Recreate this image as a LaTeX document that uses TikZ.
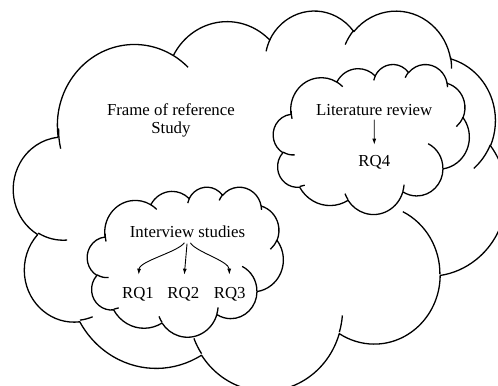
\documentclass[tikz,border=0pt]{standalone}
\usepackage{fontspec}
\setmainfont{Liberation Serif}
\usetikzlibrary{arrows.meta}
% converts an OOXML arc (visual angles) into parametric TikZ angles
\newcommand\cdef[5]{%
  \pgfmathsetmacro\cloudtmpS{atan2((#2)*sin(#4),(#3)*cos(#4))}%
  \pgfmathsetmacro\cloudtmpE{atan2((#2)*sin((#4)+(#5)),(#3)*cos((#4)+(#5)))}%
  \pgfmathsetmacro\cloudtmpD{mod((\cloudtmpE)-(\cloudtmpS)+720,360)}%
  \expandafter\let\csname #1S\endcsname\cloudtmpS
  \expandafter\let\csname #1D\endcsname\cloudtmpD}
\newcommand\cloudmain{(3.9,14.37)
  arc[x radius=6.753,y radius=9.19,start angle=\mAS,delta angle=\mAD]
  arc[x radius=5.333,y radius=7.267,start angle=\mBS,delta angle=\mBD]
  arc[x radius=4.365,y radius=5.945,start angle=\mCS,delta angle=\mCD]
  arc[x radius=4.857,y radius=6.595,start angle=\mDS,delta angle=\mDD]
  arc[x radius=5.333,y radius=7.273,start angle=\mES,delta angle=\mED]
  arc[x radius=6.775,y radius=9.22,start angle=\mFS,delta angle=\mFD]
  arc[x radius=5.785,y radius=7.867,start angle=\mGS,delta angle=\mGD]
  arc[x radius=6.752,y radius=9.215,start angle=\mHS,delta angle=\mHD]
  arc[x radius=7.72,y radius=10.543,start angle=\mIS,delta angle=\mID]
  arc[x radius=4.36,y radius=5.918,start angle=\mJS,delta angle=\mJD]
  arc[x radius=4.345,y radius=5.945,start angle=\mKS,delta angle=\mKD] -- cycle}
\newcommand\cloudhooks{
  (4.693,26.177) arc[x radius=4.345,y radius=5.945,start angle=\hAS,delta angle=\hAD]
  (6.928,34.899) arc[x radius=4.36,y radius=5.918,start angle=\hBS,delta angle=\hBD]
  (16.478,39.09) arc[x radius=6.752,y radius=9.215,start angle=\hCS,delta angle=\hCD]
  (28.827,34.751) arc[x radius=6.752,y radius=9.215,start angle=\hDS,delta angle=\hDD]
  (34.129,22.954) arc[x radius=5.785,y radius=7.867,start angle=\hES,delta angle=\hED]
  (41.798,15.354) arc[x radius=5.333,y radius=7.273,start angle=\hFS,delta angle=\hFD]
  (38.324,5.426) arc[x radius=4.857,y radius=6.595,start angle=\hGS,delta angle=\hGD]
  (29.078,3.952) arc[x radius=4.857,y radius=6.595,start angle=\hHS,delta angle=\hHD]
  (22.141,4.72) arc[x radius=4.365,y radius=5.945,start angle=\hIS,delta angle=\hID]
  (14.0,5.192) arc[x radius=6.753,y radius=9.19,start angle=\hJS,delta angle=\hJD]
  (4.127,15.789) arc[x radius=6.753,y radius=9.19,start angle=\hKS,delta angle=\hKD]}
\begin{document}
\begin{tikzpicture}[scale=0.0351459,yscale=-1,
  cloudline/.style={line width=1.3pt,line join=round},
  lbl/.style={font=\fontsize{16.8}{18}\selectfont,inner sep=0pt,anchor=base},
  arr/.style={line width=0.9pt,-{Latex[length=6pt,width=4pt]}}]
\useasboundingbox (0,0) rectangle (498,385);
\clip (0,0) rectangle (498,385);
\cdef{mA}{6.753}{9.19}{-190.4875}{123.7805}
\cdef{mB}{5.333}{7.267}{-144.1024}{89.9452}
\cdef{mC}{4.365}{5.945}{-145.8079}{99.7230}
\cdef{mD}{4.857}{6.595}{-130.9861}{117.2417}
\cdef{mE}{5.333}{7.273}{-78.7089}{109.0269}
\cdef{mF}{6.775}{9.22}{-46.2673}{130.2690}
\cdef{mG}{5.785}{7.867}{0.6250}{114.0333}
\cdef{mH}{6.752}{9.215}{22.4516}{115.1726}
\cdef{mI}{7.72}{10.543}{66.2426}{75.7110}
\cdef{mJ}{4.36}{5.918}{-274.9421}{146.7356}
\cdef{mK}{4.345}{5.945}{-246.8285}{152.5226}
\cdef{hA}{4.345}{5.945}{86.742}{26.4295}
\cdef{hB}{4.36}{5.918}{73.6105}{11.4475}
\cdef{hC}{6.752}{9.215}{137.6242}{14.0811}
\cdef{hD}{6.752}{9.215}{6.4533}{15.9984}
\cdef{hE}{5.785}{7.867}{-70.2924}{70.9174}
\cdef{hF}{5.333}{7.273}{30.318}{27.7515}
\cdef{hG}{4.857}{6.595}{-13.7443}{14.8536}
\cdef{hH}{4.857}{6.595}{-149.1815}{18.1954}
\cdef{hI}{4.365}{5.945}{-163.4943}{17.6864}
\cdef{hJ}{6.753}{9.19}{-66.707}{12.3194}
\cdef{hK}{6.753}{9.19}{162.0393}{19.4319}
% big cloud
\begin{scope}[shift={(13.6,9.8)},xscale=11.405,yscale=8.796]
  \draw[cloudline] \cloudmain;
  \draw[cloudline] \cloudhooks;
\end{scope}
% literature review cloud
\begin{scope}[shift={(273.3,64)},xscale=4.537,yscale=3.472]
  \filldraw[cloudline,fill=white] \cloudmain;
  \draw[cloudline] \cloudhooks;
\end{scope}
% interview studies cloud
\begin{scope}[shift={(87.3,186.7)},xscale=4.537,yscale=3.472]
  \filldraw[cloudline,fill=white] \cloudmain;
  \draw[cloudline] \cloudhooks;
\end{scope}
\node[lbl,anchor=center,align=center] (frame) at (170.9,120) {Frame of reference\\Study};
\node[lbl] (lit) at (374.2,115) {Literature review};
\node[lbl] (rq4) at (374.3,166.5) {RQ4};
\node[lbl] (int) at (187.5,237.8) {Interview studies};
\node[lbl] (rq1) at (138,298) {RQ1};
\node[lbl] (rq2) at (183.3,298) {RQ2};
\node[lbl] (rq3) at (229.7,298) {RQ3};
\draw[arr,shorten <=4.3pt,shorten >=10.5pt] (lit.south) -- (rq4.north);
\draw[arr,shorten <=5.5pt,shorten >=12pt] (int.south) .. controls (178,252) and (139.5,261) .. (rq1.north);
\draw[arr,shorten <=5.5pt,shorten >=12pt] (int.south) -- (rq2.north);
\draw[arr,shorten <=5.5pt,shorten >=12pt] (int.south) .. controls (196,252) and (229,261) .. (rq3.north);
\end{tikzpicture}
\end{document}
